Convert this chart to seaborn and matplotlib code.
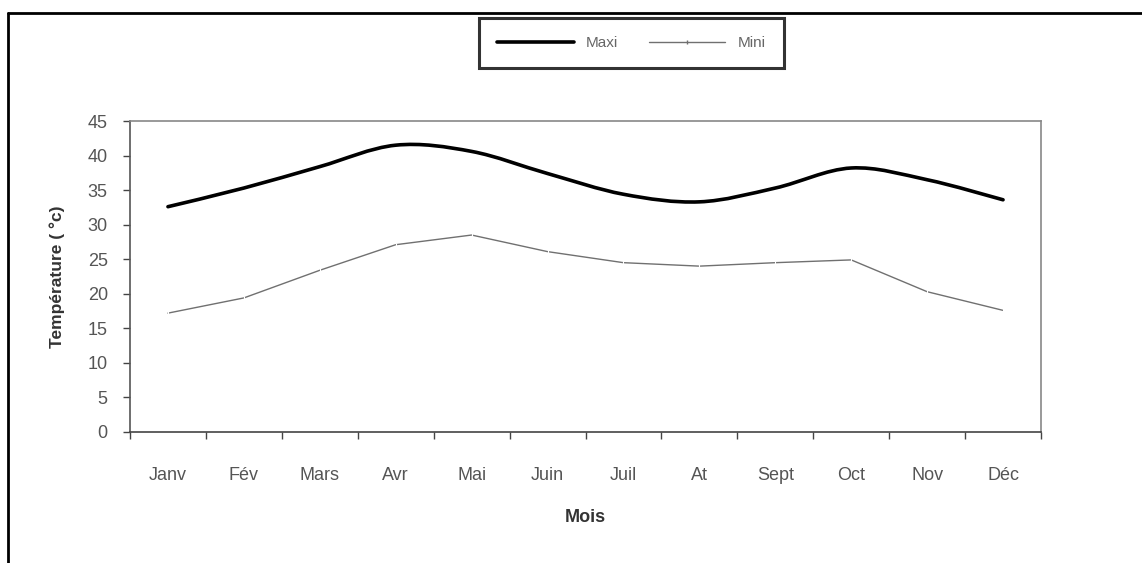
import numpy as np
import pandas as pd
import matplotlib
matplotlib.use("Agg")
import matplotlib.pyplot as plt
import seaborn as sns
from matplotlib.path import Path
from matplotlib.patches import PathPatch
from matplotlib.lines import Line2D

months = ["Janv", "Fév", "Mars", "Avr", "Mai", "Juin", "Juil", "At", "Sept", "Oct", "Nov", "Déc"]
maxi = [32.6, 35.3, 38.4, 41.5, 40.6, 37.4, 34.4, 33.3, 35.3, 38.2, 36.5, 33.6]
mini = [17.2, 19.4, 23.4, 27.1, 28.5, 26.1, 24.5, 24.0, 24.5, 24.9, 20.3, 17.6]
yticks = [0, 5, 10, 15, 20, 25, 30, 35, 40, 45]

sns.set_theme(style="white")
plt.rcParams['font.family'] = ['Liberation Sans', 'DejaVu Sans']

fig = plt.figure(figsize=(11.42, 5.63), dpi=100)
ax = fig.add_axes([130/1142, (563-432)/563, (1041-130)/1142, (432-121)/563])

df = pd.DataFrame({"Mois": months, "Maxi": maxi, "Mini": mini})

# Mini: straight segments
sns.lineplot(data=df, x="Mois", y="Mini", ax=ax, color="#707070", linewidth=1.0,
             marker="|", markersize=3, markeredgewidth=0.8, sort=False, legend=False)

# Maxi: smoothed curve (Bezier through the data points)
xs = np.arange(len(maxi), dtype=float)
ys = np.array(maxi, dtype=float)
verts = [(xs[0], ys[0])]
codes = [Path.MOVETO]
n = len(xs)
for i in range(n - 1):
    p0 = np.array([xs[max(i-1, 0)], ys[max(i-1, 0)]])
    p1 = np.array([xs[i], ys[i]])
    p2 = np.array([xs[i+1], ys[i+1]])
    p3 = np.array([xs[min(i+2, n-1)], ys[min(i+2, n-1)]])
    c1 = p1 + (p2 - p0) / 6.0
    c2 = p2 - (p3 - p1) / 6.0
    verts += [tuple(c1), tuple(c2), tuple(p2)]
    codes += [Path.CURVE4] * 3
ax.add_patch(PathPatch(Path(verts, codes), facecolor="none", edgecolor="black",
                       linewidth=2.6, capstyle="round", joinstyle="round"))

ax.set_xlim(-0.5, len(months) - 0.5)
ax.set_ylim(0, 45)
ax.set_yticks(yticks)
ax.set_yticklabels([str(v) for v in yticks])
ax.set_xticks(np.arange(len(months)))
ax.set_xticklabels(months)
ax.set_xticks(np.arange(-0.5, len(months)), minor=True)
ax.tick_params(axis="x", which="major", length=0, pad=25, labelsize=13, labelcolor="#555555")
ax.tick_params(axis="x", which="minor", length=5, width=1, color="#444444", direction="out", bottom=True)
ax.tick_params(axis="y", which="major", length=5, width=1, color="#444444", direction="out", left=True,
               pad=11, labelsize=13, labelcolor="#555555")

for side, sp in ax.spines.items():
    sp.set_visible(True)
    sp.set_color("#888888")
    sp.set_linewidth(1.2)
ax.spines["bottom"].set_color("#444444")
ax.spines["left"].set_color("#555555")

ax.set_xlabel("Mois", fontsize=13, fontweight="bold", color="#333333", labelpad=18)
ax.set_ylabel("Température ( °c)", fontsize=12.5, fontweight="bold", color="#333333", labelpad=16)

handles = [Line2D([], [], color="black", linewidth=2.6),
           Line2D([], [], color="#707070", linewidth=1.0, marker="|", markersize=3)]
leg = fig.legend(handles, ["Maxi", "Mini"], ncol=2, loc="center",
                 bbox_to_anchor=((478+785)/2/1142, 1 - 43/563), frameon=True, fancybox=False,
                 handlelength=5.0, columnspacing=2.0, handletextpad=0.8,
                 fontsize=11, borderpad=1.2, borderaxespad=0)
leg.get_frame().set_edgecolor("black")
leg.get_frame().set_linewidth(2.2)
for t in leg.get_texts():
    t.set_color("#666666")

# outer chart border (left and top edges visible)
fig.add_artist(Line2D([8/1142, 8/1142], [0, 1 - 13/563], transform=fig.transFigure, color="black", linewidth=2))
fig.add_artist(Line2D([8/1142, 1], [1 - 13/563, 1 - 13/563], transform=fig.transFigure, color="black", linewidth=2))

fig.savefig("out.png", dpi=100)
